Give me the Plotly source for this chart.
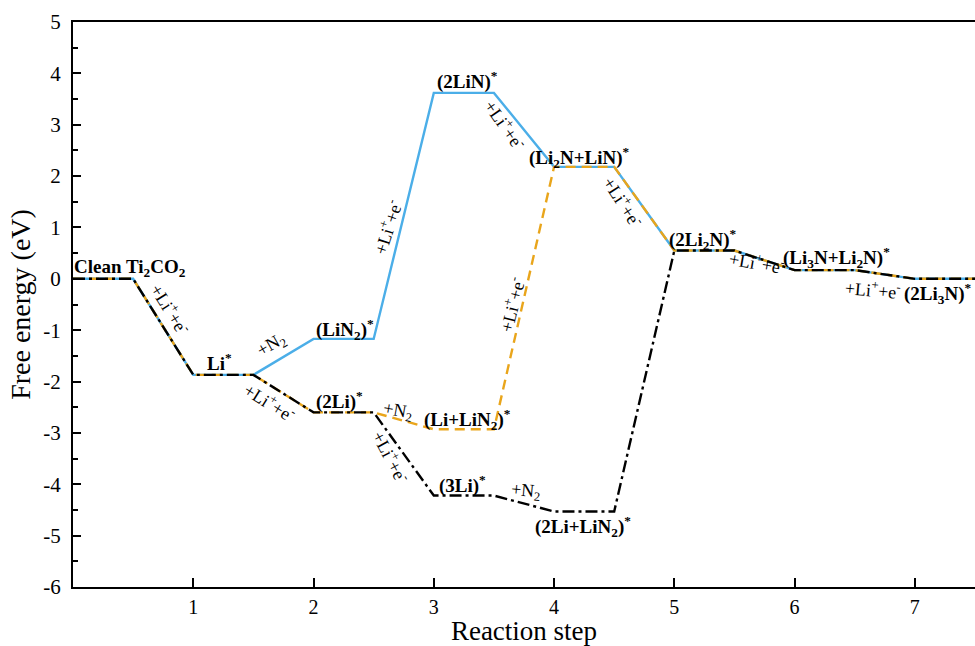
import plotly.graph_objects as go

# ---------------- data ----------------
steps = [0, 1, 2, 3, 4, 5, 6, 7]
path_blue = [0.0, -1.87, -1.17, 3.62, 2.18, 0.55, 0.17, 0.0]
path_orange = [0.0, -1.87, -2.60, -2.93, 2.18, 0.55, 0.17, 0.0]
path_black = [0.0, -1.87, -2.60, -4.22, -4.53, 0.55, 0.17, 0.0]
plateau_width = 0.5

x_ticks = [1, 2, 3, 4, 5, 6, 7]
y_ticks = [5, 4, 3, 2, 1, 0, -1, -2, -3, -4, -5, -6]
y_ticktext = ["5", "4", "3", "2", "1", "0", "-1", "-2", "-3", "-4", "-5", "-6"]

# state labels: (text, x, y)
state_labels = [
    ("Clean Ti<sub>2</sub>CO<sub>2</sub>", 0.47, 0.21),
    ("Li<sup>*</sup>", 1.22, -1.62),
    ("(LiN<sub>2</sub>)<sup>*</sup>", 2.26, -0.98),
    ("(2Li)<sup>*</sup>", 2.22, -2.37),
    ("(Li+LiN<sub>2</sub>)<sup>*</sup>", 3.28, -2.74),
    ("(3Li)<sup>*</sup>", 3.24, -4.0),
    ("(2Li+LiN<sub>2</sub>)<sup>*</sup>", 4.24, -4.82),
    ("(2LiN)<sup>*</sup>", 3.28, 3.87),
    ("(Li<sub>2</sub>N+LiN)<sup>*</sup>", 4.21, 2.37),
    ("(2Li<sub>2</sub>N)<sup>*</sup>", 5.24, 0.76),
    ("(Li<sub>3</sub>N+Li<sub>2</sub>N)<sup>*</sup>", 6.35, 0.41),
    ("(2Li<sub>3</sub>N)<sup>*</sup>", 7.19, -0.29),
]

# step labels: (text, x, y, angle)
LIE = "+Li<sup>+</sup>+e<sup>-</sup>"
N2 = "+N<sub>2</sub>"
step_labels = [
    (LIE, 0.81, -0.60, 58),
    (N2, 1.65, -1.30, -30),
    (LIE, 1.64, -2.40, 32),
    (N2, 2.70, -2.59, 10),
    (LIE, 2.64, -3.46, 62),
    (N2, 3.76, -4.14, 5),
    (LIE, 2.62, 1.01, -72),
    (LIE, 3.59, 3.00, 55),
    (LIE, 3.65, -0.50, -76),
    (LIE, 4.57, 1.50, 57),
    (LIE, 5.69, 0.32, 10),
    (LIE, 6.65, -0.21, 5),
]


def profile(levels):
    xs, ys = [], []
    for s, e in zip(steps, levels):
        xs += [s, s + plateau_width]
        ys += [e, e]
    return xs, ys


fig = go.Figure()
for levels, color, dash in [
    (path_blue, "#4BAEE8", "solid"),
    (path_orange, "#E9A51B", "10px,6px"),
    (path_black, "#000000", "12px,4px,3px,4px"),
]:
    xs, ys = profile(levels)
    fig.add_trace(go.Scatter(x=xs, y=ys, mode="lines",
                             line=dict(color=color, width=2.4, dash=dash),
                             showlegend=False, hoverinfo="skip"))

for text, x, y in state_labels:
    fig.add_annotation(x=x, y=y, text="<b>" + text + "</b>", showarrow=False,
                       font=dict(family="Liberation Serif", size=19, color="#000"))

for text, x, y, ang in step_labels:
    fig.add_annotation(x=x, y=y, text=text, showarrow=False, textangle=ang,
                       font=dict(family="Liberation Serif", size=18, color="#000"))

fig.update_layout(
    width=975, height=646,
    margin=dict(l=73, r=0, t=22, b=59),
    paper_bgcolor="white", plot_bgcolor="white",
    font=dict(family="Liberation Serif", color="#000"),
    showlegend=False,
)
fig.update_xaxes(
    range=[0, 7.5], tickvals=x_ticks, ticks="inside", ticklen=9, tickwidth=1.5,
    tickcolor="#000", showline=True, linecolor="#000", linewidth=2, mirror=True,
    showgrid=False, zeroline=False, tickfont=dict(family="Liberation Serif", size=20),
    ticklabelstandoff=1,
    title=dict(text="Reaction step", font=dict(family="Liberation Serif", size=27), standoff=2),
)
fig.update_yaxes(
    range=[-6, 5], tickvals=y_ticks, ticktext=y_ticktext, ticks="inside",
    ticklen=8, tickwidth=1.5, tickcolor="#000",
    minor=dict(tickvals=[v + 0.5 for v in y_ticks[1:]], ticks="inside", ticklen=5,
               tickwidth=1.5, tickcolor="#000"),
    showline=True, linecolor="#000", linewidth=2, mirror=False,
    showgrid=False, zeroline=False, tickfont=dict(family="Liberation Serif", size=21),
    ticklabelstandoff=6,
    title=dict(text="Free energy (eV)", font=dict(family="Liberation Serif", size=28), standoff=4),
)

fig.write_html("out.html")
